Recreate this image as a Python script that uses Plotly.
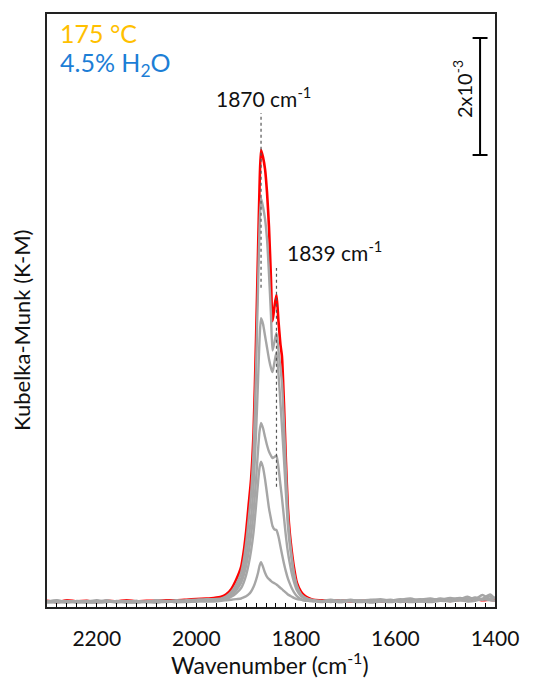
import plotly.graph_objects as go

# Wavenumber grid (cm-1): baseline on the high side, dense points across the carbonyl band, baseline on the low side
WN = [2300, 2280, 2260, 2240, 2220, 2200, 2180, 2160, 2140, 2120, 2100, 2080, 2060, 2040, 2020, 2000, 1980, 1965,
      1950, 1940, 1930, 1920, 1910, 1905, 1900, 1895, 1890, 1885, 1880, 1876, 1873, 1870, 1866, 1862, 1858, 1854,
      1850, 1847, 1843, 1839, 1835, 1831, 1828, 1824, 1820, 1816, 1812, 1808, 1804, 1798, 1790, 1784, 1775, 1765,
      1750, 1730, 1710, 1690, 1670, 1650, 1630, 1610, 1590, 1570, 1550, 1530, 1510, 1490, 1470, 1455, 1440, 1425,
      1410, 1400]

# Kubelka-Munk intensity, in units of 10^-3
km_final = [0.02, 0.00, 0.03, 0.01, 0.02, 0.00, 0.02, 0.01, 0.03, 0.01, 0.02, 0.02, 0.03, 0.03, 0.04, 0.05, 0.06, 0.07,
             0.09, 0.13, 0.22, 0.38, 0.60, 0.85, 1.20, 1.65, 2.10, 2.90, 4.50, 6.00, 7.10, 7.73, 7.60, 7.40, 7.00, 6.40,
             5.50, 4.80, 5.05, 5.25, 4.80, 4.40, 4.20, 3.40, 2.40, 1.60, 1.15, 0.85, 0.60, 0.33, 0.18, 0.12, 0.07, 0.04,
             0.03, 0.02, 0.03, 0.01, 0.02, 0.02, 0.01, 0.03, 0.02, 0.01, 0.03, 0.02, 0.03, 0.02, 0.04, 0.03, 0.05, 0.03,
             0.04, 0.03]

km_t5 = [0.01, 0.03, 0.00, 0.02, 0.01, 0.03, 0.00, 0.02, 0.01, 0.02, 0.00, 0.03, 0.02, 0.02, 0.03, 0.04, 0.05, 0.05,
         0.06, 0.10, 0.17, 0.30, 0.50, 0.70, 1.00, 1.40, 1.85, 2.60, 4.00, 5.40, 6.40, 6.90, 6.75, 6.55, 6.20, 5.60,
         4.90, 4.30, 4.45, 4.60, 4.30, 4.00, 3.75, 3.05, 2.20, 1.45, 1.05, 0.75, 0.50, 0.28, 0.14, 0.09, 0.05, 0.03,
         0.02, 0.04, 0.01, 0.03, 0.02, 0.04, 0.03, 0.02, 0.05, 0.03, 0.04, 0.06, 0.03, 0.05, 0.07, 0.04, 0.08, 0.05,
         0.10, 0.06]

km_t4 = [0.00, 0.02, 0.01, -0.01, 0.02, 0.01, 0.03, 0.00, 0.02, 0.00, 0.01, 0.02, 0.01, 0.03, 0.02, 0.03, 0.04, 0.04,
         0.05, 0.08, 0.14, 0.24, 0.40, 0.55, 0.78, 1.08, 1.45, 2.00, 2.90, 3.80, 4.50, 4.85, 4.75, 4.55, 4.35, 4.15,
         4.00, 3.93, 4.10, 4.27, 3.90, 3.40, 3.00, 2.45, 1.85, 1.30, 0.95, 0.70, 0.47, 0.26, 0.13, 0.08, 0.05, 0.03,
         0.01, 0.03, 0.02, 0.04, 0.01, 0.03, 0.05, 0.02, 0.04, 0.06, 0.02, 0.05, 0.04, 0.07, 0.03, 0.06, 0.05, 0.12,
         0.04, 0.07]

km_t3 = [-0.01, 0.01, 0.02, 0.00, 0.00, 0.02, 0.01, -0.01, 0.01, 0.02, 0.00, 0.01, 0.00, 0.02, 0.01, 0.02, 0.03, 0.03,
         0.04, 0.07, 0.12, 0.20, 0.33, 0.45, 0.62, 0.85, 1.15, 1.55, 2.10, 2.60, 2.92, 3.06, 2.97, 2.82, 2.68, 2.57,
         2.50, 2.46, 2.48, 2.50, 2.30, 2.00, 1.78, 1.45, 1.12, 0.85, 0.65, 0.48, 0.35, 0.20, 0.10, 0.07, 0.04, 0.02,
         0.00, 0.02, 0.00, 0.02, 0.03, 0.00, 0.02, 0.04, 0.01, 0.03, 0.05, 0.02, 0.06, 0.03, 0.05, 0.09, 0.04, 0.06,
         0.13, 0.05]

km_t2 = [0.01, -0.01, 0.01, 0.01, -0.01, 0.00, 0.01, 0.01, 0.00, -0.01, 0.01, 0.00, 0.01, 0.00, 0.01, 0.01, 0.02, 0.02,
         0.03, 0.05, 0.09, 0.15, 0.24, 0.33, 0.46, 0.64, 0.88, 1.20, 1.65, 2.05, 2.30, 2.40, 2.30, 2.10, 1.85, 1.60,
         1.42, 1.30, 1.24, 1.23, 1.12, 0.95, 0.82, 0.66, 0.52, 0.40, 0.31, 0.23, 0.17, 0.10, 0.05, 0.03, 0.02, 0.01,
         0.02, 0.00, 0.03, 0.01, 0.00, 0.02, 0.01, 0.03, 0.00, 0.02, 0.01, 0.04, 0.02, 0.03, 0.06, 0.02, 0.07, 0.04,
         0.06, 0.08]

km_t1 = [0.00, 0.01, -0.01, 0.01, 0.00, -0.01, 0.00, 0.01, -0.01, 0.00, 0.00, -0.01, 0.01, 0.00, 0.00, 0.01, 0.01, 0.01,
         0.02, 0.03, 0.04, 0.05, 0.06, 0.08, 0.10, 0.13, 0.18, 0.26, 0.38, 0.50, 0.62, 0.68, 0.60, 0.50, 0.43, 0.39,
         0.36, 0.34, 0.32, 0.30, 0.27, 0.24, 0.22, 0.19, 0.16, 0.13, 0.11, 0.09, 0.07, 0.05, 0.04, 0.03, 0.02, 0.02,
         0.01, 0.01, 0.00, 0.02, 0.01, -0.01, 0.01, 0.00, 0.02, 0.00, 0.01, 0.00, 0.02, 0.01, 0.03, 0.01, 0.02, 0.05,
         0.03, 0.02]

GRAY_SERIES = [km_t1, km_t2, km_t3, km_t4, km_t5]

# Band positions marked with dotted guides: (wavenumber, top, bottom) in 10^-3 units
PEAK_WN = [1870, 1839]
PEAK_GUIDE_TOP = [8.36, 5.71]
PEAK_GUIDE_BOTTOM = [5.37, 1.97]
PEAK_LABEL_WN = [1964, 1822]
PEAK_LABEL_Y = [8.63, 6.00]

# Intensity scale bar (2x10^-3)
SCALE_WN = 1430
SCALE_BOTTOM = 7.64
SCALE_SPAN = 2.0

X_TICKS = [2200, 2000, 1800, 1600, 1400]

FONT = "Lato"
RED = "#FF0000"
GRAY = "#A6A6A6"

fig = go.Figure()

fig.add_trace(go.Scatter(x=WN, y=km_final, mode="lines",
                         line=dict(color=RED, width=2.6, shape="spline", smoothing=0.6),
                         hoverinfo="skip", showlegend=False))
for series in GRAY_SERIES[::-1]:
    fig.add_trace(go.Scatter(x=WN, y=series, mode="lines",
                             line=dict(color=GRAY, width=2.4, shape="spline", smoothing=0.6),
                             hoverinfo="skip", showlegend=False))

# dotted guides above the two bands
for wn, top, bottom in zip(PEAK_WN, PEAK_GUIDE_TOP, PEAK_GUIDE_BOTTOM):
    fig.add_shape(type="line", xref="x", yref="y", x0=wn, x1=wn, y0=bottom, y1=top,
                  line=dict(color="#555555", width=1.2, dash="dot"))
for wn, lx, ly in zip(PEAK_WN, PEAK_LABEL_WN, PEAK_LABEL_Y):
    fig.add_annotation(x=lx, y=ly, xref="x", yref="y", xanchor="left", yanchor="middle",
                       text=f"{wn} cm<sup>-1</sup>", showarrow=False,
                       font=dict(family=FONT, size=21, color="#111111"))

# scale bar
fig.add_shape(type="line", xref="x", yref="y", x0=SCALE_WN, x1=SCALE_WN,
              y0=SCALE_BOTTOM, y1=SCALE_BOTTOM + SCALE_SPAN, line=dict(color="black", width=2))
for yv in (SCALE_BOTTOM, SCALE_BOTTOM + SCALE_SPAN):
    fig.add_shape(type="line", xref="x", yref="y", x0=SCALE_WN + 15, x1=SCALE_WN - 15,
                  y0=yv, y1=yv, line=dict(color="black", width=2))
fig.add_annotation(x=SCALE_WN + 36, y=SCALE_BOTTOM + SCALE_SPAN / 2 + 0.13, xref="x", yref="y",
                   text="2x10<sup>-3</sup>", textangle=-90, showarrow=False,
                   font=dict(family=FONT, size=20, color="#111111"))

# conditions
fig.add_annotation(x=0.024, y=0.968, xref="paper", yref="paper", xanchor="left", yanchor="middle",
                   text="175 °C", showarrow=False, font=dict(family=FONT, size=25, color="#FFC000"))
fig.add_annotation(x=0.024, y=0.915, xref="paper", yref="paper", xanchor="left", yanchor="middle",
                   text="4.5% H<sub>2</sub>O", showarrow=False, font=dict(family=FONT, size=25, color="#1C7ED6"))

# axis titles
fig.add_annotation(x=0.498, y=-0.096, xref="paper", yref="paper", xanchor="center", yanchor="middle",
                   text="Wavenumber (cm<sup>-1</sup>)", showarrow=False,
                   font=dict(family=FONT, size=23, color="#111111"))
fig.add_annotation(x=-0.058, y=0.467, xref="paper", yref="paper", xanchor="center", yanchor="middle",
                   text="Kubelka-Munk (K-M)", textangle=-90, showarrow=False,
                   font=dict(family=FONT, size=22, color="#111111"))

fig.update_xaxes(range=[2300, 1400], tickvals=X_TICKS, ticks="inside", ticklen=4, tickwidth=1.2,
                 tickcolor="black", showgrid=False, zeroline=False, showline=True, mirror=True,
                 linecolor="#222222", linewidth=1.6, ticklabelstandoff=12,
                 tickfont=dict(family=FONT, size=21, color="#111111"),
                 minor=dict(dtick=20, ticks="inside", ticklen=4, tickwidth=1.2, tickcolor="black",
                            showgrid=False))
fig.update_yaxes(range=[-0.085, 10.05], showticklabels=False, ticks="", showgrid=False, zeroline=False,
                 showline=True, mirror=True, linecolor="#222222", linewidth=1.6)

fig.update_layout(width=535, height=679, margin=dict(l=47, r=40, t=14, b=72),
                  paper_bgcolor="white", plot_bgcolor="white", font=dict(family=FONT))

fig.write_html("out.html")
